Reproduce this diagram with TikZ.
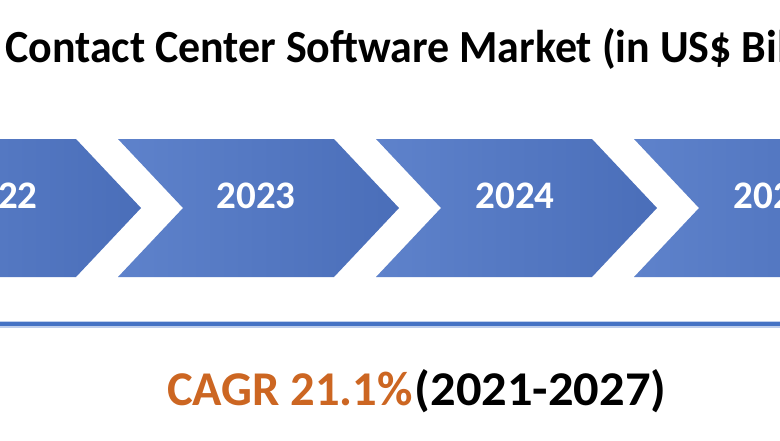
\documentclass[tikz,border=0pt]{standalone}
\usepackage{fontspec}
\usepackage{graphicx}
\setmainfont{Carlito}
\definecolor{chevL}{RGB}{94,130,203}
\definecolor{chevR}{RGB}{74,110,185}
\definecolor{lineblue}{RGB}{68,114,196}
\definecolor{halo}{RGB}{190,206,236}
\definecolor{cagr}{RGB}{204,102,34}
\begin{document}
\begin{tikzpicture}[x=1pt,y=-1pt,
  chev/.style={left color=chevL,right color=chevR,draw=none},
  yearlbl/.style={text=white,font=\fontsize{39}{44}\selectfont\bfseries,anchor=base,inner sep=0pt}]
\useasboundingbox (0,0) rectangle (780,440);
\clip (0,0) rectangle (780,440);
\fill[white] (0,0) rectangle (780,440);
\node[anchor=base west,inner sep=0pt,font=\fontsize{46}{52}\selectfont\bfseries] (title) at (5,62) {\scalebox{0.955}[1]{Contact Center Software Market (in US\$ Billion)}};
\foreach \k in {0,1,2,3}{
  \pgfmathsetmacro{\ox}{258*\k-140}
  \shade[chev] (\ox,139) -- (\ox+216,139) -- (\ox+281,208) -- (\ox+216,277) -- (\ox,277) -- (\ox+65,208) -- cycle;
}
\node[yearlbl] (yr22) at (-2,208) {2022};
\node[yearlbl] (yr23) at (256,208) {2023};
\node[yearlbl] (yr24) at (515,208) {2024};
\node[yearlbl] (yr25) at (773,208) {2025};
\coordinate (la) at (0,324);
\coordinate (lb) at (780,324);
\draw[halo,line width=7pt] (la) -- (lb);
\draw[lineblue,line width=3.5pt] (la) -- (lb);
\node[anchor=base west,inner sep=0pt,font=\fontsize{48.5}{54}\selectfont\bfseries] (cagr) at (167,405) {\textcolor{cagr}{CAGR 21.1\%}\hspace{2pt}\scalebox{1.04}[1]{(2021-2027)}};
\end{tikzpicture}
\end{document}
